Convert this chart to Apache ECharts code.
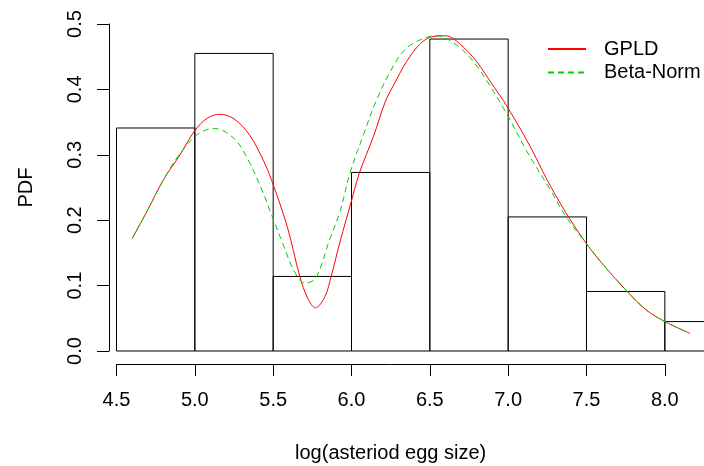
<!DOCTYPE html>
<html>
<head>
<meta charset="utf-8">
<script src="https://cdn.jsdelivr.net/npm/echarts@6/dist/echarts.min.js"></script>
<style>
  html, body { margin: 0; padding: 0; background: #fff; }
  #main { width: 704px; height: 466px; }
</style>
</head>
<body>
<div id="main"></div>
<script>
// histogram: bin edges and densities
const binLo = [4.5, 5.0, 5.5, 6.0, 6.5, 7.0, 7.5, 8.0]
const binHi = [5.0, 5.5, 6.0, 6.5, 7.0, 7.5, 8.0, 8.5]
const density = [0.341, 0.455, 0.114, 0.273, 0.477, 0.205, 0.091, 0.045]

// fitted densities
const gpldX = [4.60, 4.70, 4.80, 4.90, 5.00, 5.08, 5.16, 5.25, 5.35, 5.44, 5.49, 5.59, 5.67, 5.72, 5.77, 5.83, 5.87, 5.93, 5.99, 6.05, 6.14, 6.22, 6.27, 6.35, 6.44, 6.52, 6.60, 6.69, 6.80, 6.90, 6.99, 7.14, 7.25, 7.37, 7.50, 7.61, 7.76, 7.88, 8.00, 8.16]
const gpldY = [0.172, 0.216, 0.262, 0.298, 0.337, 0.356, 0.362, 0.355, 0.330, 0.290, 0.261, 0.190, 0.114, 0.081, 0.066, 0.083, 0.114, 0.170, 0.221, 0.272, 0.328, 0.384, 0.407, 0.442, 0.470, 0.481, 0.482, 0.470, 0.442, 0.407, 0.375, 0.313, 0.261, 0.211, 0.164, 0.131, 0.091, 0.063, 0.045, 0.027]
const betaX = [4.60, 4.70, 4.80, 4.90, 5.00, 5.07, 5.13, 5.25, 5.33, 5.42, 5.49, 5.57, 5.63, 5.70, 5.77, 5.86, 5.93, 5.99, 6.08, 6.16, 6.27, 6.35, 6.46, 6.54, 6.67, 6.78, 6.88, 6.99, 7.12, 7.27, 7.37, 7.48, 7.61, 7.76, 7.88, 8.00, 8.16]
const betaY = [0.172, 0.216, 0.262, 0.300, 0.328, 0.338, 0.340, 0.325, 0.297, 0.251, 0.208, 0.159, 0.124, 0.104, 0.111, 0.170, 0.216, 0.272, 0.333, 0.384, 0.437, 0.463, 0.478, 0.482, 0.468, 0.442, 0.407, 0.363, 0.305, 0.246, 0.205, 0.170, 0.131, 0.091, 0.063, 0.045, 0.027]

const xTicks = { min: 4.5, max: 8.0, step: 0.5 }
const yTicks = { min: 0, max: 0.5, step: 0.1 }

const font = 'Liberation Sans, Arial, sans-serif'
const chart = echarts.init(document.getElementById('main'))

const histData = binLo.map((lo, i) => [lo, binHi[i], density[i]])
const pairs = (xs, ys) => xs.map((x, i) => [x, ys[i]])

chart.setOption({
  animation: false,
  textStyle: { fontFamily: font, color: '#000' },
  grid: [
    // plotting area, runs past the right edge like the original
    { left: 116.5, right: 0, top: 24, bottom: 115, outerBoundsMode: 'none', containLabel: false },
    // only carries the visible x axis (4.5 .. 8.0)
    { left: 116.5, width: 548.3, top: 24, bottom: 102, outerBoundsMode: 'none', containLabel: false }
  ],
  xAxis: [
    { gridIndex: 0, type: 'value', min: 4.5, max: 8.25, show: false },
    {
      gridIndex: 1, type: 'value', min: xTicks.min, max: xTicks.max, interval: xTicks.step,
      axisLine: { lineStyle: { color: '#000', width: 1 } },
      axisTick: { length: 12, lineStyle: { color: '#000' } },
      axisLabel: { fontSize: 20, color: '#000', margin: 26, formatter: v => v.toFixed(1) },
      splitLine: { show: false },
      name: 'log(asteriod egg size)', nameLocation: 'middle', nameGap: 79,
      nameTextStyle: { fontSize: 20, color: '#000' }
    }
  ],
  yAxis: [
    {
      gridIndex: 0, type: 'value', min: yTicks.min, max: yTicks.max, interval: yTicks.step,
      offset: 7.5,
      axisLine: { show: true, lineStyle: { color: '#000', width: 1 } },
      axisTick: { show: true, length: 12, lineStyle: { color: '#000' } },
      axisLabel: { fontSize: 20, color: '#000', rotate: 90, margin: 24, formatter: v => v.toFixed(1) },
      splitLine: { show: false },
      name: 'PDF', nameLocation: 'middle', nameGap: 73, nameRotate: 90,
      nameTextStyle: { fontSize: 20, color: '#000' }
    },
    { gridIndex: 1, type: 'value', min: 0, max: 1, show: false }
  ],
  legend: {
    data: ['GPLD', 'Beta-Norm'],
    orient: 'vertical',
    left: 547, top: 39,
    padding: 0,
    itemWidth: 38, itemHeight: 14, itemGap: 3.4,
    itemStyle: { opacity: 0 },
    textStyle: { fontSize: 20, color: '#000', lineHeight: 20, padding: [0, 0, 0, 13] }
  },
  series: [
    {
      type: 'custom',
      xAxisIndex: 0, yAxisIndex: 0,
      data: histData,
      encode: { x: [0, 1], y: 2 },
      silent: true,
      renderItem: function (params, api) {
        const top = api.coord([api.value(0), api.value(2)])
        const bot = api.coord([api.value(1), 0])
        return {
          type: 'rect',
          shape: { x: top[0], y: top[1], width: bot[0] - top[0], height: bot[1] - top[1] },
          style: { fill: 'none', stroke: '#000', lineWidth: 1 }
        }
      }
    },
    {
      name: 'GPLD', type: 'line', xAxisIndex: 0, yAxisIndex: 0,
      data: pairs(gpldX, gpldY),
      symbol: 'none', smooth: 0.35,
      lineStyle: { color: '#FF0000', width: 1 },
      itemStyle: { color: '#FF0000' }
    },
    {
      name: 'Beta-Norm', type: 'line', xAxisIndex: 0, yAxisIndex: 0,
      data: pairs(betaX, betaY),
      symbol: 'none', smooth: 0.35,
      lineStyle: { color: '#00CD00', width: 1, type: [6, 4] },
      itemStyle: { color: '#00CD00' }
    }
  ]
})
</script>
</body>
</html>
